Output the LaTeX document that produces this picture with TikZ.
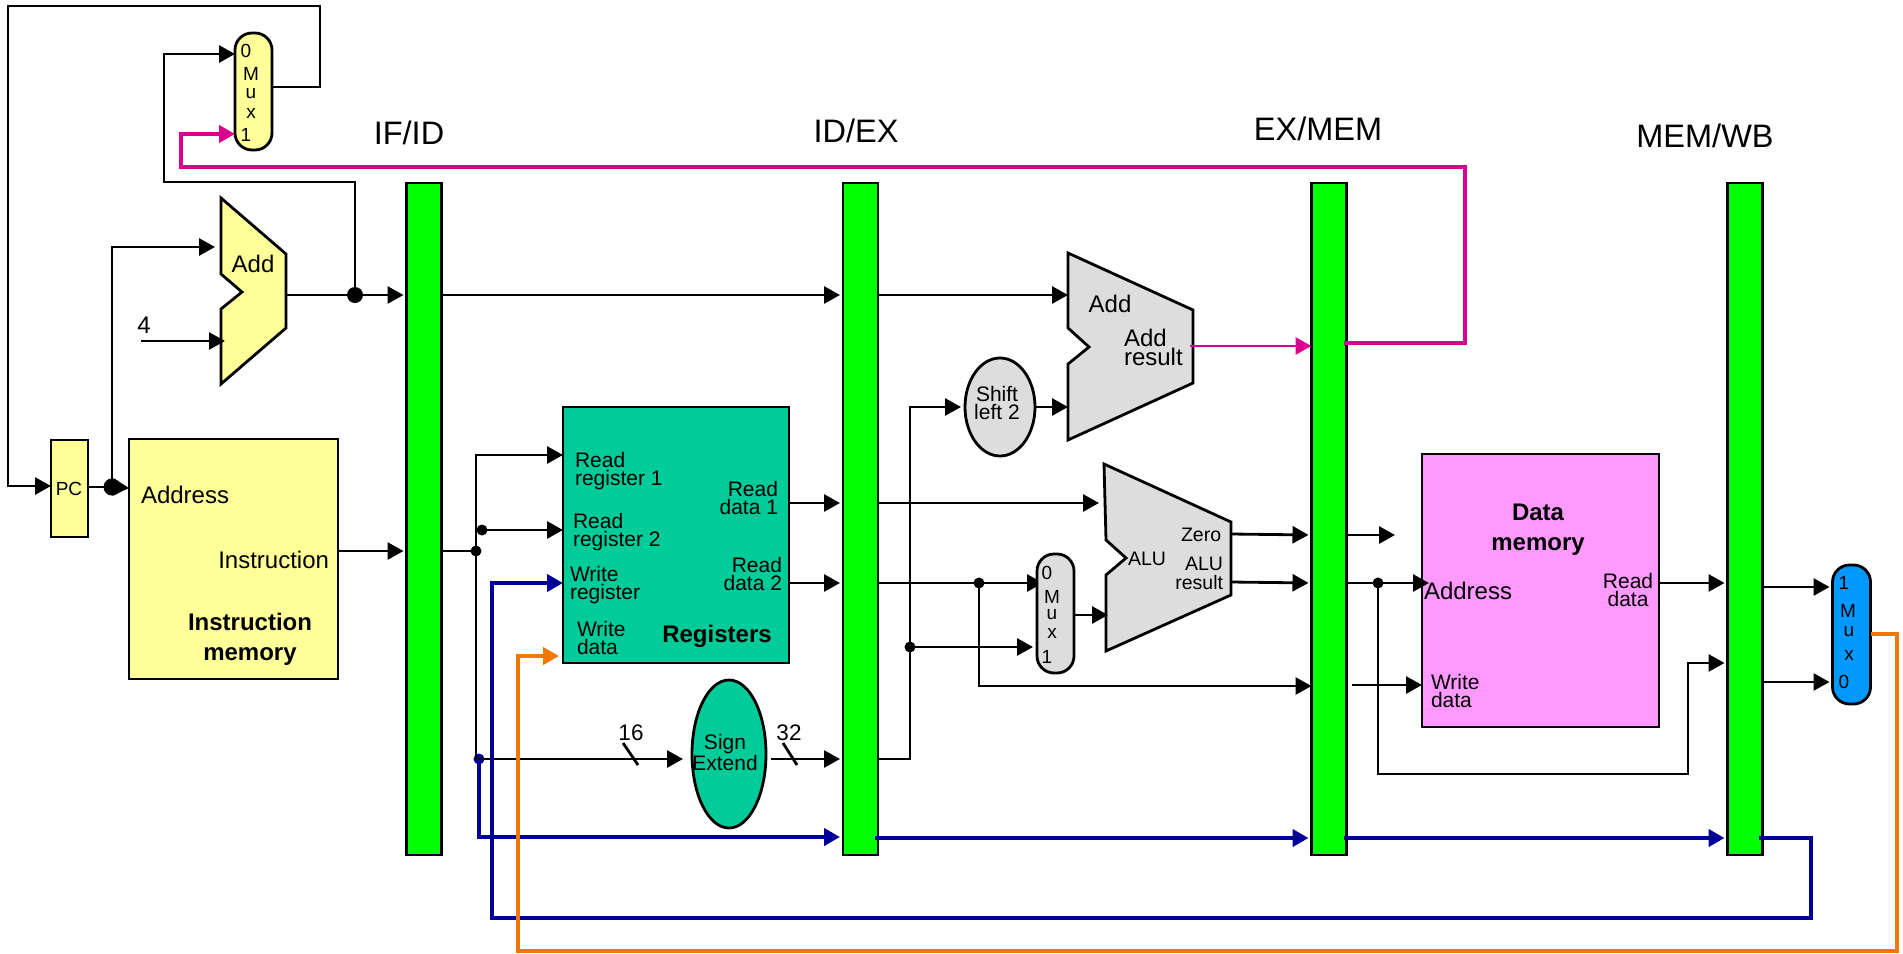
\documentclass[tikz,border=0pt]{standalone}
\usepackage{fontspec}
\setmainfont{Liberation Sans}
\usetikzlibrary{arrows.meta,shapes.geometric,backgrounds}
\definecolor{yel}{HTML}{FFFF99}
\definecolor{teal2}{HTML}{00CC99}
\definecolor{pink2}{HTML}{FF99FF}
\definecolor{gry}{HTML}{DDDDDD}
\definecolor{muxblue}{HTML}{0099FF}
\definecolor{grn}{HTML}{00FF00}
\definecolor{mag}{HTML}{DB0090}
\definecolor{org}{HTML}{F07800}
\definecolor{nav}{HTML}{000099}
\newcommand{\fs}[1]{\fontsize{#1}{#1}\selectfont}
\tikzset{
  every node/.style={inner sep=0pt,outer sep=0pt},
  wire/.style={line width=2.8pt,line join=miter},
  arr/.style={wire,-{Triangle[length=16pt,width=17pt]},shorten >=3pt},
  tip/.style={wire,-{Triangle[length=16pt,width=17pt]}},
  fat/.style={line width=4pt},
  blk/.style={draw,line width=2.8pt,rectangle},
  bar/.style={blk,fill=grn,minimum width=35pt,minimum height=672pt},
  mux/.style={blk,rounded corners=17pt,minimum width=37pt},
  dot/.style={circle,fill,minimum size=#1},
  dot/.default=12pt,
  shp/.style={draw,line width=2.8pt,line join=miter},
  small/.style={font=\fontsize{21}{18}\selectfont,align=left},
  smallr/.style={font=\fontsize{21}{18}\selectfont,align=right},
  smallc/.style={font=\fontsize{21}{18}\selectfont,align=center},
  alut/.style={font=\fontsize{19.5}{19}\selectfont,align=center},
  big/.style={font=\fs{24}},
  bold/.style={font=\fontsize{24}{30}\selectfont\bfseries,align=center},
  head/.style={font=\fs{32.5}},
  mt/.style={font=\fs{19}},
  num/.style={font=\fs{22.5}},
}
\begin{document}
\begin{tikzpicture}[x=1pt,y=-1pt]
\useasboundingbox (0,0) rectangle (1903,953);
\begin{scope}[on background layer]
\fill[white] (0,0) rectangle (1903,953);
\end{scope}

% pipeline registers
\node[bar] (barA) at (424,519) {};
\node[bar] (barB) at (860.5,519) {};
\node[bar] (barC) at (1329,519) {};
\node[bar] (barD) at (1745,519) {};
\node[head] (lA) at (409,133) {IF/ID};
\node[head] (lB) at (856,131) {ID/EX};
\node[head] (lC) at (1318,129) {EX/MEM};
\node[head] (lD) at (1705,136) {MEM/WB};

% blocks
\node[mux,fill=yel,minimum height=117pt] (muxA) at (253.5,91.5) {};
\node[blk,fill=yel,minimum width=37pt,minimum height=97pt] (pc) at (69.5,488.5) {};
\node[mt] (pct) at (69,489) {PC};
\node[blk,fill=yel,minimum width=209pt,minimum height=240pt] (imem) at (233.5,559) {};
\node[blk,fill=teal2,minimum width=226pt,minimum height=256pt] (regs) at (676,535) {};
\node[ellipse,draw,line width=2.8pt,fill=teal2,minimum width=74pt,minimum height=148pt] (sign) at (729,754) {};
\node[ellipse,draw,line width=2.8pt,fill=gry,minimum width=70pt,minimum height=98pt] (shift) at (1000,407) {};
\node[mux,fill=gry,minimum height=119pt] (muxB) at (1055.5,613.5) {};
\node[blk,fill=pink2,minimum width=237pt,minimum height=273pt] (dmem) at (1540.5,590.5) {};
\node[mux,fill=muxblue,minimum width=38pt,minimum height=139pt] (muxC) at (1851.5,634.5) {};
\draw[shp,fill=yel] (221,198) -- (286,254) -- (286,328) -- (221,384) -- (221,309) -- (242,292) -- (221,274) -- cycle;
\draw[shp,fill=gry] (1068,253) -- (1193,310) -- (1193,383) -- (1068,440) -- (1068,364) -- (1089,347) -- (1068,328) -- cycle;
\draw[shp,fill=gry] (1104,464) -- (1231,522) -- (1231,595) -- (1106,651) -- (1106,575) -- (1126,558) -- (1106,540) -- cycle;

% ports on the drawn shapes
\coordinate (addOut) at (286,295);
\coordinate (addIa) at (215,247);
\coordinate (addIb) at (225,341);
\coordinate (addbIa) at (1068,295);
\coordinate (addbIb) at (1068,407);
\coordinate (addbOut) at (1190,346);
\coordinate (aluIa) at (1099,503);
\coordinate (aluIb) at (1108,615);
\coordinate (aluZero) at (1231,534);
\coordinate (aluRes) at (1231,582);

% labels
\node[mt] (m1a) at (246,51) {0};
\node[mt] (m1b) at (251,74) {M};
\node[mt] (m1c) at (251,94) {u};
\node[mt] (m1d) at (251,113) {x};
\node[mt] (m1e) at (246,135) {1};
\node[big] (addL) at (253,264) {Add};
\node[big] (four) at (144,325) {4};
\node[big,anchor=west] (imA) at (141,495) {Address};
\node[big,anchor=east] (imI) at (329,560) {Instruction};
\node[bold] (imT) at (250,639.5) {Instruction\\memory};
\node[small,anchor=west] (rr1) at (575,471) {Read\\register 1};
\node[small,anchor=west] (rr2) at (573,532) {Read\\register 2};
\node[small,anchor=west] (wr) at (570,585) {Write\\register};
\node[small,anchor=west] (wd) at (577,637.5) {Write\\data};
\node[smallr,anchor=east] (rd1) at (778,498) {Read\\data 1};
\node[smallr,anchor=east] (rd2) at (782,574) {Read\\data 2};
\node[bold] (regT) at (717,636) {Registers};
\node[smallc] (signT) at (725,752.5) {Sign\\Extend};
\node[num] (n16) at (631,733) {16};
\node[num] (n32) at (789,733) {32};
\node[smallc] (shT) at (997,403) {Shift\\left 2};
\node[big] (addbL) at (1110,304) {Add};
\node[font=\fontsize{24}{17}\selectfont,align=left,anchor=west] (addbR) at (1124,347.5) {Add\\result};
\node[alut,anchor=west] (aluT) at (1128,559) {ALU};
\node[alut,anchor=west] (zeroT) at (1181,535) {Zero};
\node[alut,align=right,anchor=east] (aluR) at (1223,573.5) {ALU\\result};
\node[mt] (m2a) at (1047,573) {0};
\node[mt] (m2b) at (1052,597) {M};
\node[mt] (m2c) at (1052,615) {u};
\node[mt] (m2d) at (1052,633) {x};
\node[mt] (m2e) at (1047,657) {1};
\node[bold] (dmT) at (1538,529.5) {Data\\memory};
\node[big,anchor=west] (dmA) at (1424,591) {Address};
\node[smallc] (dmR) at (1628,590) {Read\\data};
\node[small,anchor=west] (dmW) at (1431,691) {Write\\data};
\node[mt] (m3a) at (1844,583) {1};
\node[mt] (m3b) at (1848,611) {M};
\node[mt] (m3c) at (1849,632) {u};
\node[mt] (m3d) at (1849,655) {x};
\node[mt] (m3e) at (1844,682) {0};

% junctions and free ends
\node[dot=17pt] (jPC) at (112,487) {};
\node[dot=16pt] (jAdd) at (355,295) {};
\node[dot=11pt] (jIn) at (476,551) {};
\node[dot=11pt] (jR2) at (482,530) {};
\node[dot=11pt,nav] (jBlue) at (479,759) {};
\node[dot=11pt] (jRD2) at (979,583) {};
\node[dot=11pt] (jSE) at (910,647) {};
\node[dot=11pt] (jMem) at (1378,583) {};
\coordinate (start4) at (141,341);
\coordinate (dangS) at (1344,535);
\coordinate (dangE) at (1395,535);
\coordinate (wdS) at (1352,685);

% arrow whose head sits behind the ALU input mux
\begin{scope}[on background layer]
\draw[tip] (barB.east |- 0,583) -- ([xshift=6pt]muxB.west |- 0,583);
\end{scope}

% black connectors
\draw[tip] (muxA.east |- 0,87) -- (320,87) -- (320,6) -- (8,6) -- (8,486) -- (pc.west |- 0,486);
\draw[tip] (jAdd.center) -- (355,182) -- (164,182) -- (164,54) -- (muxA.west |- 0,54);
\draw[wire] (pc.east |- 0,487) -- (jPC.center);
\draw[tip] (jPC.center) -- (imem.west |- 0,488);
\draw[tip] (jPC.center) -- (112,247) -- (addIa);
\draw[tip] (start4) -- (addIb);
\draw[wire] (addOut) -- (jAdd.center);
\draw[arr] (jAdd.center) -- (barA.west |- 0,295);
\draw[arr] (imem.east |- 0,551) -- (barA.west |- 0,551);
\draw[wire] (barA.east |- 0,551) -- (jIn.center);
\draw[arr] (barA.east |- 0,295) -- (barB.west |- 0,295);
\draw[tip] (jIn.center) -- (476,455) -- (regs.west |- 0,455);
\draw[tip] (jR2.center) -- (regs.west |- 0,530);
\draw[wire] (jIn.center) -- (476,759) -- (jBlue.center);
\draw[tip] (jBlue.center) -- ([xshift=-9pt]sign.west |- 0,759);
\draw[arr] ([xshift=5pt]sign.east |- 0,759) -- (barB.west |- 0,759);
\draw[wire] (623,743) -- (638,765);
\draw[wire] (783,743) -- (797,765);
\draw[arr] (regs.east |- 0,503) -- (barB.west |- 0,503);
\draw[arr] (regs.east |- 0,583) -- (barB.west |- 0,583);
\draw[tip] (barB.east |- 0,295) -- (addbIa);
\draw[tip] (shift.east) -- (addbIb);
\draw[tip] (barB.east |- 0,759) -- (910,759) -- (910,407) -- ([xshift=-4pt]shift.west);
\draw[tip] (jSE.center) -- ([xshift=-4pt]muxB.west |- 0,647);
\draw[tip] (barB.east |- 0,503) -- (aluIa);
\draw[tip] (muxB.east |- 0,615) -- (aluIb);
\draw[tip] (jRD2.center) -- (979,686) -- (barC.west |- 0,686);
\draw[arr] (aluZero) -- (barC.west |- 0,535);
\draw[arr] (aluRes) -- (barC.west |- 0,583);
\draw[tip] ([xshift=-2pt]barC.east |- dangS) -- (dangE);
\draw[tip] ([xshift=-2pt]barC.east |- 0,583) -- (1429,583);
\draw[tip] (wdS) -- (dmem.west |- wdS);
\draw[arr] (jMem.center) -- (1378,774) -- (1688,774) -- (1688,663) -- (barD.west |- 0,663);
\draw[arr] (dmem.east |- 0,583) -- (barD.west |- 0,583);
\draw[arr] (barD.east |- 0,587) -- (muxC.west |- 0,587);
\draw[arr] (barD.east |- 0,682) -- (muxC.west |- 0,682);

% coloured connectors
\draw[wire,fat,mag,-{Triangle[length=16pt,width=17pt]}] ([xshift=-3pt]barC.east |- 0,343) -- (1465,343) -- (1465,167) -- (181,167) -- (181,134) -- (muxA.west |- 0,134);
\draw[wire,mag,-{Triangle[length=16pt,width=17pt]}] (addbOut) -- (barC.west |- addbOut);
\draw[wire,fat,nav,shorten >=3pt,-{Triangle[length=16pt,width=17pt]}] (jBlue.center) -- (479,837) -- (barB.west |- 0,837);
\draw[wire,fat,nav,shorten >=3pt,-{Triangle[length=16pt,width=17pt]}] ([xshift=-3pt]barB.east |- 0,838) -- (barC.west |- 0,838);
\draw[wire,fat,nav,shorten >=3pt,-{Triangle[length=16pt,width=17pt]}] ([xshift=-3pt]barC.east |- 0,838) -- (barD.west |- 0,838);
\draw[wire,fat,nav,-{Triangle[length=16pt,width=17pt]}] ([xshift=-4pt]barD.east |- 0,838) -- (1811,838) -- (1811,918) -- (492,918) -- (492,583) -- (regs.west |- 0,583);
\draw[wire,fat,org,shorten >=4pt,-{Triangle[length=16pt,width=17pt]}] (muxC.east |- 0,634) -- (1897,634) -- (1897,951) -- (518,951) -- (518,656) -- (regs.west |- 0,656);
\end{tikzpicture}
\end{document}
